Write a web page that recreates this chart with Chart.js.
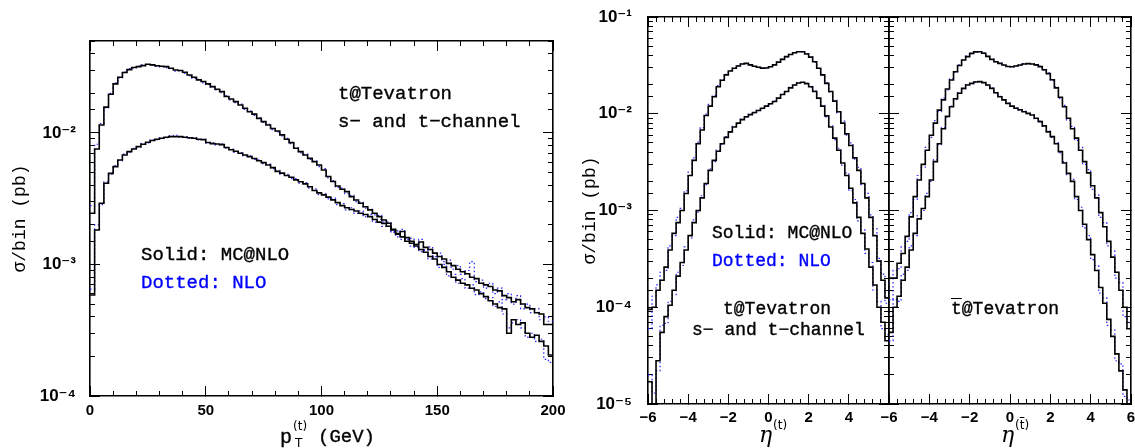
<!DOCTYPE html>
<html><head><meta charset="utf-8">
<script src="https://cdn.jsdelivr.net/npm/chart.js@4"></script>
<style>
html,body{margin:0;padding:0;background:#fff;}
#wrap{position:relative;width:1135px;height:448px;overflow:hidden;background:#fff;}
canvas{position:absolute;top:0;}
.t{position:absolute;white-space:nowrap;color:#000;line-height:1;font-family:'Liberation Mono',monospace;-webkit-text-stroke:0.35px currentColor;}
</style></head><body>
<div id="wrap">
<canvas id="cPt" width="570" height="448" style="left:0px"></canvas>
<canvas id="cEtaT" width="320" height="448" style="left:570px"></canvas>
<canvas id="cEtaTb" width="255" height="448" style="left:880px"></canvas>

<div class="t" style="left:338px;top:85px;font-size:19px">t@Tevatron</div>
<div class="t" style="left:338px;top:113px;font-size:19px">s− and t−channel</div>
<div class="t" style="left:141px;top:246px;font-size:19px">Solid: MC@NLO</div>
<div class="t" style="left:141px;top:274px;font-size:19px;color:#0000ff">Dotted: NLO</div>

<div class="t" style="left:712px;top:224px;font-size:18px">Solid: MC@NLO</div>
<div class="t" style="left:712px;top:252px;font-size:18px;color:#0000ff">Dotted: NLO</div>
<div class="t" style="left:723px;top:300px;font-size:18px">t@Tevatron</div>
<div class="t" style="left:692px;top:321px;font-size:18px">s− and t−channel</div>
<div class="t" style="left:951px;top:300px;font-size:18px"><span style="text-decoration:overline">t</span>@Tevatron</div>

<div class="t" style="left:280px;top:428px;font-size:20px">p</div>
<div class="t" style="left:293px;top:420px;font-size:12px;font-family:'DejaVu Sans',sans-serif;-webkit-text-stroke:0">(t)</div>
<div class="t" style="left:295px;top:437px;font-size:12px;font-family:'DejaVu Sans',sans-serif;-webkit-text-stroke:0">T</div>
<div class="t" style="left:318px;top:428px;font-size:19px">(GeV)</div>

<div class="t" style="left:759px;top:424px;font-size:22px;font-family:'DejaVu Serif',serif;font-style:italic;-webkit-text-stroke:0">η</div>
<div class="t" style="left:773px;top:419px;font-size:12px;font-family:'DejaVu Sans',sans-serif;-webkit-text-stroke:0">(t)</div>
<div class="t" style="left:1001px;top:424px;font-size:22px;font-family:'DejaVu Serif',serif;font-style:italic;-webkit-text-stroke:0">η</div>
<div class="t" style="left:1015px;top:419px;font-size:12px;font-family:'DejaVu Sans',sans-serif;-webkit-text-stroke:0">(<span style="text-decoration:overline">t</span>)</div>
</div>
<script>
// ---------------- data ----------------
const PT_START = 0, PT_WIDTH = 2;      // GeV bins
const ETA_START = -6, ETA_WIDTH = 0.2; // eta bins

const ptUpperMC = [2.45e-3,7.55e-3,1.15e-2,1.57e-2,1.97e-2,2.36e-2,2.65e-2,2.88e-2,3.03e-2,3.14e-2,
 3.19e-2,3.25e-2,3.33e-2,3.29e-2,3.24e-2,3.21e-2,3.19e-2,3.10e-2,3.01e-2,2.98e-2,
 2.89e-2,2.76e-2,2.65e-2,2.53e-2,2.46e-2,2.36e-2,2.25e-2,2.15e-2,2.06e-2,1.89e-2,
 1.81e-2,1.73e-2,1.63e-2,1.54e-2,1.45e-2,1.39e-2,1.29e-2,1.22e-2,1.15e-2,1.08e-2,
 1.035e-2,9.66e-3,8.95e-3,8.44e-3,7.64e-3,7.21e-3,6.80e-3,6.41e-3,6.05e-3,5.71e-3,
 5.23e-3,4.66e-3,4.27e-3,3.95e-3,3.73e-3,3.58e-3,3.28e-3,3.09e-3,2.92e-3,2.75e-3,
 2.60e-3,2.45e-3,2.31e-3,2.18e-3,2.06e-3,1.85e-3,1.72e-3,1.62e-3,1.50e-3,1.45e-3,
 1.38e-3,1.30e-3,1.24e-3,1.15e-3,1.10e-3,1.00e-3,0.95e-3,0.88e-3,0.80e-3,0.76e-3,
 0.72e-3,0.70e-3,0.66e-3,0.64e-3,0.60e-3,0.57e-3,0.53e-3,0.50e-3,0.47e-3,0.46e-3,
 0.30e-3,0.38e-3,0.35e-3,0.36e-3,0.30e-3,0.28e-3,0.29e-3,0.26e-3,0.24e-3,0.205e-3];
const ptUpperNLO = [2.80e-3,8.20e-3,1.18e-2,1.55e-2,2.00e-2,2.40e-2,2.62e-2,2.90e-2,3.08e-2,3.12e-2,
 3.22e-2,3.30e-2,3.31e-2,3.27e-2,3.20e-2,3.18e-2,3.14e-2,3.08e-2,2.95e-2,2.96e-2,
 2.84e-2,2.72e-2,2.60e-2,2.55e-2,2.40e-2,2.33e-2,2.22e-2,2.12e-2,2.02e-2,1.92e-2,
 1.78e-2,1.70e-2,1.66e-2,1.51e-2,1.47e-2,1.36e-2,1.31e-2,1.20e-2,1.16e-2,1.06e-2,
 1.02e-2,9.50e-3,9.10e-3,8.30e-3,7.70e-3,7.05e-3,6.90e-3,6.30e-3,6.10e-3,5.55e-3,
 5.35e-3,4.55e-3,4.35e-3,3.85e-3,3.80e-3,3.45e-3,3.35e-3,3.00e-3,2.98e-3,2.68e-3,
 2.62e-3,2.38e-3,2.36e-3,2.10e-3,2.10e-3,1.78e-3,1.80e-3,1.55e-3,1.55e-3,1.38e-3,
 1.42e-3,1.25e-3,1.28e-3,1.10e-3,1.14e-3,0.95e-3,1.00e-3,0.82e-3,0.84e-3,0.72e-3,
 0.78e-3,0.66e-3,0.70e-3,0.59e-3,0.62e-3,0.55e-3,0.56e-3,0.48e-3,0.52e-3,0.42e-3,
 0.33e-3,0.36e-3,0.38e-3,0.33e-3,0.28e-3,0.30e-3,0.26e-3,0.27e-3,0.19e-3,0.18e-3];
const ptLowerMC = [5.86e-4,1.83e-3,2.92e-3,4.14e-3,4.93e-3,5.54e-3,6.23e-3,6.80e-3,7.21e-3,7.55e-3,
 7.87e-3,8.20e-3,8.49e-3,8.75e-3,8.95e-3,9.10e-3,9.27e-3,9.38e-3,9.38e-3,9.38e-3,
 9.27e-3,9.20e-3,9.10e-3,8.95e-3,8.90e-3,8.45e-3,8.30e-3,8.25e-3,8.15e-3,7.75e-3,
 7.45e-3,7.25e-3,7.00e-3,6.80e-3,6.60e-3,6.40e-3,6.15e-3,5.95e-3,5.70e-3,5.45e-3,
 5.10e-3,4.95e-3,4.75e-3,4.60e-3,4.40e-3,4.25e-3,4.10e-3,3.90e-3,3.65e-3,3.50e-3,
 3.38e-3,3.25e-3,3.10e-3,2.95e-3,2.80e-3,2.70e-3,2.62e-3,2.55e-3,2.45e-3,2.40e-3,
 2.31e-3,2.20e-3,2.10e-3,2.05e-3,1.95e-3,1.83e-3,1.70e-3,1.78e-3,1.60e-3,1.50e-3,
 1.42e-3,1.48e-3,1.35e-3,1.30e-3,1.22e-3,1.15e-3,1.10e-3,1.02e-3,0.98e-3,0.92e-3,
 0.88e-3,0.85e-3,0.80e-3,0.78e-3,0.72e-3,0.70e-3,0.68e-3,0.64e-3,0.63e-3,0.58e-3,
 0.56e-3,0.52e-3,0.54e-3,0.50e-3,0.47e-3,0.46e-3,0.43e-3,0.42e-3,0.35e-3,0.35e-3];
const ptLowerNLO = [6.5e-4,2.0e-3,2.85e-3,4.25e-3,4.85e-3,5.65e-3,6.15e-3,6.90e-3,7.15e-3,7.65e-3,
 7.80e-3,8.30e-3,8.40e-3,8.85e-3,8.90e-3,9.20e-3,9.20e-3,9.50e-3,9.60e-3,9.30e-3,
 9.35e-3,9.10e-3,9.20e-3,8.85e-3,8.95e-3,8.35e-3,8.40e-3,8.10e-3,8.25e-3,7.65e-3,
 7.55e-3,7.15e-3,7.10e-3,6.70e-3,6.70e-3,6.30e-3,6.25e-3,5.85e-3,5.80e-3,5.35e-3,
 5.20e-3,4.85e-3,4.85e-3,4.50e-3,4.50e-3,4.15e-3,4.20e-3,3.80e-3,3.75e-3,3.40e-3,
 3.45e-3,3.15e-3,3.20e-3,2.85e-3,2.90e-3,2.60e-3,2.70e-3,2.45e-3,2.55e-3,2.30e-3,
 2.40e-3,2.10e-3,2.20e-3,1.95e-3,2.05e-3,1.75e-3,1.62e-3,1.85e-3,1.55e-3,1.58e-3,
 1.35e-3,1.55e-3,1.30e-3,1.36e-3,1.15e-3,1.22e-3,1.05e-3,1.08e-3,0.92e-3,0.98e-3,
 0.84e-3,0.90e-3,1.05e-3,0.74e-3,0.76e-3,0.66e-3,0.72e-3,0.60e-3,0.66e-3,0.54e-3,
 0.60e-3,0.50e-3,0.58e-3,0.46e-3,0.50e-3,0.43e-3,0.46e-3,0.38e-3,0.40e-3,0.37e-3];

const etaTUpperMC = [9.5e-5,1.0e-4,1.5e-4,1.9e-4,2.6e-4,3.9e-4,5.8e-4,7.5e-4,1.0e-3,1.5e-3,
 2.3e-3,3.3e-3,4.9e-3,6.8e-3,9.6e-3,1.2e-2,1.5e-2,1.9e-2,2.22e-2,2.52e-2,
 2.77e-2,2.95e-2,3.12e-2,3.27e-2,3.32e-2,3.2e-2,3.1e-2,3.02e-2,2.96e-2,2.97e-2,
 3.06e-2,3.2e-2,3.42e-2,3.65e-2,3.89e-2,4.1e-2,4.27e-2,4.38e-2,4.38e-2,4.15e-2,
 3.85e-2,3.45e-2,2.95e-2,2.52e-2,2.06e-2,1.7e-2,1.35e-2,1.05e-2,8.0e-3,6.2e-3,
 4.7e-3,3.5e-3,2.6e-3,1.9e-3,1.35e-3,8.5e-4,5.5e-4,3.0e-4,1.9e-4,1.25e-4];
const etaTUpperNLO = [6.0e-5,1.3e-4,1.7e-4,2.3e-4,2.4e-4,4.3e-4,5.5e-4,8.5e-4,1.05e-3,1.6e-3,
 2.5e-3,3.5e-3,5.1e-3,7.2e-3,9.9e-3,1.25e-2,1.55e-2,1.95e-2,2.25e-2,2.55e-2,
 2.8e-2,2.97e-2,3.14e-2,3.3e-2,3.3e-2,3.18e-2,3.08e-2,3.01e-2,2.95e-2,2.99e-2,
 3.05e-2,3.22e-2,3.4e-2,3.67e-2,3.86e-2,4.12e-2,4.25e-2,4.4e-2,4.36e-2,4.18e-2,
 3.86e-2,3.42e-2,2.97e-2,2.5e-2,2.1e-2,1.68e-2,1.38e-2,1.02e-2,8.4e-3,6.0e-3,
 5.0e-3,3.4e-3,2.8e-3,1.85e-3,1.5e-3,9.0e-4,6.5e-4,3.2e-4,2.2e-4,1.1e-4];
const etaTLowerMC = [1.7e-5,9e-6,2.8e-5,5.5e-5,8e-5,1.05e-4,1.5e-4,2.1e-4,2.9e-4,3.9e-4,
 5.5e-4,7.5e-4,1.0e-3,1.35e-3,1.9e-3,2.6e-3,3.3e-3,4.1e-3,4.9e-3,5.7e-3,
 6.5e-3,7.3e-3,8.0e-3,8.7e-3,9.3e-3,9.8e-3,1.03e-2,1.08e-2,1.14e-2,1.2e-2,
 1.27e-2,1.34e-2,1.45e-2,1.58e-2,1.7e-2,1.85e-2,1.98e-2,2.08e-2,2.12e-2,2.05e-2,
 1.9e-2,1.7e-2,1.45e-2,1.2e-2,9.5e-3,7.3e-3,5.6e-3,4.2e-3,3.1e-3,2.3e-3,
 1.7e-3,1.2e-3,8.5e-4,5.8e-4,4.0e-4,2.6e-4,1.7e-4,1.0e-4,7e-5,4.5e-5];
const etaTLowerNLO = [2.0e-5,1.3e-5,2.2e-5,6.5e-5,6.8e-5,1.15e-4,1.35e-4,2.3e-4,2.7e-4,4.2e-4,
 5.2e-4,8.0e-4,9.6e-4,1.42e-3,1.85e-3,2.7e-3,3.2e-3,4.2e-3,4.85e-3,5.8e-3,
 6.4e-3,7.4e-3,7.9e-3,8.8e-3,9.2e-3,9.9e-3,1.02e-2,1.09e-2,1.13e-2,1.21e-2,
 1.26e-2,1.35e-2,1.44e-2,1.6e-2,1.69e-2,1.87e-2,1.97e-2,2.1e-2,2.1e-2,2.06e-2,
 1.88e-2,1.72e-2,1.43e-2,1.22e-2,9.3e-3,7.5e-3,5.4e-3,4.4e-3,2.95e-3,2.45e-3,
 1.6e-3,1.3e-3,7.8e-4,6.3e-4,3.6e-4,2.9e-4,1.5e-4,1.15e-4,6e-5,5.2e-5];

const etaTbUpperMC = [2.0e-4,2.0e-4,2.85e-4,3.6e-4,5.4e-4,8.6e-4,1.39e-3,2.07e-3,3.0e-3,4.2e-3,
 6.0e-3,8.0e-3,1.09e-2,1.39e-2,1.8e-2,2.23e-2,2.72e-2,3.15e-2,3.6e-2,3.89e-2,
 4.21e-2,4.36e-2,4.38e-2,4.22e-2,3.92e-2,3.65e-2,3.45e-2,3.32e-2,3.19e-2,3.08e-2,
 3.06e-2,3.12e-2,3.19e-2,3.27e-2,3.3e-2,3.27e-2,3.2e-2,3.07e-2,2.85e-2,2.6e-2,
 2.25e-2,1.85e-2,1.48e-2,1.18e-2,9.0e-3,7.0e-3,5.6e-3,4.2e-3,3.2e-3,2.45e-3,
 1.8e-3,1.35e-3,9.5e-4,6.8e-4,4.8e-4,3.3e-4,2.3e-4,1.5e-4,1.0e-4,6e-5];
const etaTbUpperNLO = [1.2e-4,2.4e-4,2.5e-4,4.2e-4,4.8e-4,9.5e-4,1.3e-3,2.3e-3,2.8e-3,4.5e-3,
 5.7e-3,8.5e-3,1.05e-2,1.45e-2,1.76e-2,2.3e-2,2.68e-2,3.2e-2,3.56e-2,3.94e-2,
 4.18e-2,4.4e-2,4.35e-2,4.26e-2,3.9e-2,3.68e-2,3.43e-2,3.34e-2,3.17e-2,3.1e-2,
 3.05e-2,3.14e-2,3.17e-2,3.3e-2,3.28e-2,3.3e-2,3.17e-2,3.1e-2,2.82e-2,2.64e-2,
 2.2e-2,1.9e-2,1.44e-2,1.22e-2,8.6e-3,7.4e-3,5.3e-3,4.5e-3,3.0e-3,2.65e-3,
 1.65e-3,1.45e-3,8.5e-4,7.5e-4,4.3e-4,3.8e-4,2.0e-4,1.8e-4,8e-5,7e-5];
const etaTbLowerMC = [5.5e-5,1.0e-4,1.3e-4,1.9e-4,2.6e-4,3.9e-4,5.8e-4,8.2e-4,1.05e-3,1.39e-3,
 2.07e-3,3.2e-3,4.9e-3,7.0e-3,9.4e-3,1.18e-2,1.43e-2,1.63e-2,1.83e-2,1.98e-2,
 2.06e-2,2.13e-2,2.15e-2,2.1e-2,1.98e-2,1.83e-2,1.65e-2,1.5e-2,1.39e-2,1.28e-2,
 1.2e-2,1.14e-2,1.1e-2,1.05e-2,1.01e-2,9.7e-3,9.0e-3,8.3e-3,7.5e-3,6.5e-3,
 5.8e-3,4.9e-3,4.06e-3,3.1e-3,2.42e-3,2.0e-3,1.39e-3,1.0e-3,7.2e-4,5.0e-4,
 3.5e-4,2.4e-4,1.6e-4,1.1e-4,7.5e-5,5.0e-5,3.3e-5,2.2e-5,1.4e-5,9e-6];
const etaTbLowerNLO = [4.5e-5,1.2e-4,1.15e-4,2.2e-4,2.4e-4,4.3e-4,5.5e-4,8.8e-4,1.0e-3,1.5e-3,
 2.0e-3,3.35e-3,4.8e-3,7.2e-3,9.2e-3,1.2e-2,1.41e-2,1.65e-2,1.81e-2,2.0e-2,
 2.05e-2,2.14e-2,2.13e-2,2.11e-2,1.96e-2,1.84e-2,1.64e-2,1.51e-2,1.38e-2,1.29e-2,
 1.19e-2,1.15e-2,1.09e-2,1.06e-2,1.0e-2,9.8e-3,8.9e-3,8.4e-3,7.4e-3,6.6e-3,
 5.7e-3,5.0e-3,3.95e-3,3.2e-3,2.35e-3,2.1e-3,1.3e-3,1.08e-3,6.6e-4,5.5e-4,
 3.1e-4,2.7e-4,1.4e-4,1.25e-4,6.5e-5,5.8e-5,2.8e-5,2.6e-5,1.2e-5,1.1e-5];

const yTitleText = 'σ/bin (pb)';

// ---------------- helpers ----------------
const SUP = {'-':'⁻','0':'⁰','1':'¹','2':'²','3':'³','4':'⁴','5':'⁵','6':'⁶','7':'⁷','8':'⁸','9':'⁹'};
function decadeLabel(v){ const e = Math.round(Math.log10(v)); return '10' + String(e).split('').map(c=>SUP[c]).join(''); }
function isDecade(v){ const l = Math.log10(v); return Math.abs(l - Math.round(l)) < 1e-6; }
function minusFmt(v){ return v < 0 ? '−' + Math.abs(v) : String(v); }

function hist(values, start, width){
  const pts = values.map((v,i)=>({x: +(start + i*width).toFixed(6), y: v}));
  pts.push({x: +(start + values.length*width).toFixed(6), y: values[values.length-1]});
  return pts;
}
function solid(data){ return {data, borderColor:'#000', borderWidth:1.6, stepped:true, pointRadius:0, fill:false}; }
function dotted(data){ return {data, borderColor:'#2222ff', borderWidth:1.2, borderDash:[1.5,2.5], stepped:true, pointRadius:0, fill:false}; }

const XFONT = {family:"'Liberation Sans','DejaVu Sans',sans-serif", size:15, weight:'bold'};
const YFONT = {family:"'Liberation Sans','DejaVu Sans',sans-serif", size:17, weight:'bold'};

function sized(w, h){
  return s => {
    if (w !== null) s.width = w;
    if (h !== null) s.height = h;
    s.paddingLeft = 0; s.paddingRight = 0; s.paddingTop = 0; s.paddingBottom = 0;
  };
}

function makeScales(c){
  const g = len => ({display:true, drawOnChartArea:false, drawTicks:true, tickLength:-len, tickColor:'#000', tickWidth:1});
  const bd = {display:true, color:'#000', width:1.6};
  const nob = {display:false};
  const xb = {type:'linear', min:c.xmin, max:c.xmax};
  const yb = {type:'logarithmic', min:c.ymin, max:c.ymax};
  const decOnly = s => { s.ticks = s.ticks.filter(t => isDecade(t.value)); };
  return {
    x: {...xb, position:'bottom', weight:1,
      ticks:{stepSize:c.xMajor, maxTicksLimit:1000, display:true, padding:c.xPad, color:'#000', font:XFONT, callback:c.xCb, maxRotation:0, minRotation:0, autoSkip:false},
      grid:g(10), border:bd, afterFit:sized(null, c.xHeight)},
    xMinor: {...xb, position:'bottom', weight:0,
      ticks:{stepSize:c.xMinor, maxTicksLimit:1000, display:false, autoSkip:false},
      grid:g(5), border:nob, afterFit:sized(null, 0)},
    xTop: {...xb, position:'top', weight:1,
      ticks:{stepSize:c.xMajor, maxTicksLimit:1000, display:false, autoSkip:false},
      grid:g(10), border:bd, afterFit:sized(null, 0)},
    xTopMinor: {...xb, position:'top', weight:0,
      ticks:{stepSize:c.xMinor, maxTicksLimit:1000, display:false, autoSkip:false},
      grid:g(5), border:nob, afterFit:sized(null, 0)},
    y: {...yb, position:'left', weight:1, afterBuildTicks:decOnly,
      ticks:{display:c.yLabels, padding:c.yPad, color:'#000', font:YFONT, callback:v=>decadeLabel(v), autoSkip:false},
      grid:g(10), border:bd,
      title:{display:!!c.yTitle, text:c.yTitle||'', color:'#000', font:{family:"'Liberation Mono',monospace", size:18}, padding:{top:9,bottom:0}},
      afterFit:sized(c.yWidth, null)},
    yMinor: {...yb, position:'left', weight:0, ticks:{display:false, autoSkip:false}, grid:g(5), border:nob, afterFit:sized(0, null)},
    yRight: {...yb, position:'right', weight:1, afterBuildTicks:decOnly, ticks:{display:false, autoSkip:false}, grid:g(10), border:bd, afterFit:sized(0, null)},
    yRightMinor: {...yb, position:'right', weight:0, ticks:{display:false, autoSkip:false}, grid:g(5), border:nob, afterFit:sized(0, null)}
  };
}

function makeChart(id, datasets, scaleCfg, padding){
  return new Chart(document.getElementById(id), {
    type:'line',
    data:{datasets},
    options:{
      responsive:false, animation:false, events:[],
      layout:{padding},
      plugins:{legend:{display:false}, tooltip:{enabled:false}},
      scales:makeScales(scaleCfg)
    }
  });
}

// pT panel
makeChart('cPt', [
  solid(hist(ptUpperMC, PT_START, PT_WIDTH)),
  solid(hist(ptLowerMC, PT_START, PT_WIDTH)),
  dotted(hist(ptUpperNLO, PT_START, PT_WIDTH)),
  dotted(hist(ptLowerNLO, PT_START, PT_WIDTH))
], {xmin:0, xmax:200, xMajor:50, xMinor:10, ymin:1e-4, ymax:0.05, xPad:16, xHeight:52,
    xCb:v=>String(v), yLabels:true, yPad:24, yWidth:90, yTitle:yTitleText},
  {left:0, top:41, right:17, bottom:0});

// eta(t) panel
makeChart('cEtaT', [
  solid(hist(etaTUpperMC, ETA_START, ETA_WIDTH)),
  solid(hist(etaTLowerMC, ETA_START, ETA_WIDTH)),
  dotted(hist(etaTUpperNLO, ETA_START, ETA_WIDTH)),
  dotted(hist(etaTLowerNLO, ETA_START, ETA_WIDTH))
], {xmin:-6, xmax:6, xMajor:2, xMinor:0.4, ymin:1e-5, ymax:0.1, xPad:15, xHeight:44,
    xCb:v=> (v===6 ? '' : minusFmt(v)), yLabels:true, yPad:26, yWidth:78, yTitle:yTitleText},
  {left:0, top:17, right:1, bottom:0});

// eta(tbar) panel
makeChart('cEtaTb', [
  solid(hist(etaTbUpperMC, ETA_START, ETA_WIDTH)),
  solid(hist(etaTbLowerMC, ETA_START, ETA_WIDTH)),
  dotted(hist(etaTbUpperNLO, ETA_START, ETA_WIDTH)),
  dotted(hist(etaTbLowerNLO, ETA_START, ETA_WIDTH))
], {xmin:-6, xmax:6, xMajor:2, xMinor:0.4, ymin:1e-5, ymax:0.1, xPad:15, xHeight:44,
    xCb:v=>minusFmt(v), yLabels:false, yPad:0, yWidth:9, yTitle:''},
  {left:0, top:17, right:4, bottom:0});
</script>
</body></html>
